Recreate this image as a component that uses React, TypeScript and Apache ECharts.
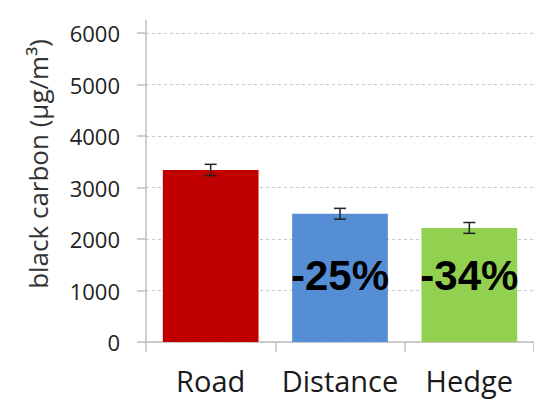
import React, { useEffect, useRef } from "react";
import * as echarts from "echarts";

const categories = ["Road", "Distance", "Hedge"];
const values = [3340, 2490, 2215];
const errors = [110, 105, 105];
const reductionLabels = ["", "-25%", "-34%"];
const barColors = ["#c00000", "#558ed5", "#92d050"];
const yTicks = [0, 1000, 2000, 3000, 4000, 5000, 6000];

export default function App() {
  const ref = useRef<HTMLDivElement>(null);
  useEffect(() => {
    document.body.style.margin = "0";
    const chart = echarts.init(ref.current!, null, { renderer: "svg" });
    const errData = values.map((v, i) => [i, v - errors[i], v + errors[i]]);
    chart.setOption({
      animation: false,
      grid: { left: 146, top: 33, width: 394, height: 309 },
      xAxis: {
        type: "category",
        data: categories,
        axisLine: { lineStyle: { color: "#bfbfbf", width: 1.5 } },
        axisTick: { show: true, length: 10, lineStyle: { color: "#bfbfbf", width: 1.5 } },
        axisLabel: { fontFamily: "Open Sans", fontSize: 29, color: "#1a1a1a", margin: 24, interval: 0 },
      },
      yAxis: {
        type: "value",
        min: yTicks[0],
        max: yTicks[yTicks.length - 1],
        interval: 1000,
        axisLine: { show: true, lineStyle: { color: "#bfbfbf", width: 1.5 } },
        axisTick: { show: true, length: 9, lineStyle: { color: "#bfbfbf", width: 1.5 } },
        axisLabel: {
          fontFamily: "Open Sans",
          fontSize: 22,
          color: "#222",
          margin: 26,
          formatter: (v: number) => String(v),
        },
        splitLine: { show: true, lineStyle: { color: "#c8c8c8", type: [3, 3], width: 1.2 } },
      },
      graphic: [
        {
          type: "line",
          shape: { x1: 146, y1: 20, x2: 146, y2: 33 },
          style: { stroke: "#bfbfbf", lineWidth: 1.5 },
        },
        {
          type: "text",
          x: 38,
          y: 164,
          rotation: Math.PI / 2,
          style: {
            text: "black carbon (µg/m³)",
            fontFamily: "Open Sans",
            fontSize: 26,
            fill: "#333",
            align: "center",
            verticalAlign: "middle",
          },
        },
      ],
      series: [
        {
          type: "bar",
          barWidth: "74%",
          data: values.map((v, i) => ({
            value: v,
            itemStyle: { color: barColors[i] },
          })),
          label: {
            show: true,
            position: "insideBottom",
            distance: 46,
            formatter: (p: any) => reductionLabels[p.dataIndex],
            fontFamily: "Liberation Sans, Arial",
            fontWeight: "bold",
            fontSize: 42,
            color: "#000",
          },
        },
        {
          type: "custom",
          data: errData,
          z: 10,
          renderItem: (params: any, api: any) => {
            const x = api.value(0);
            const lo = api.coord([x, api.value(1)]);
            const hi = api.coord([x, api.value(2)]);
            const hw = 6;
            const style = { stroke: "#222", lineWidth: 1.5 };
            return {
              type: "group",
              children: [
                { type: "line", shape: { x1: lo[0], y1: lo[1], x2: hi[0], y2: hi[1] }, style },
                { type: "line", shape: { x1: lo[0] - hw, y1: lo[1], x2: lo[0] + hw, y2: lo[1] }, style },
                { type: "line", shape: { x1: hi[0] - hw, y1: hi[1], x2: hi[0] + hw, y2: hi[1] }, style },
              ],
            };
          },
        },
      ],
    });
    return () => chart.dispose();
  }, []);
  return <div ref={ref} style={{ width: 534, height: 403 }} />;
}
